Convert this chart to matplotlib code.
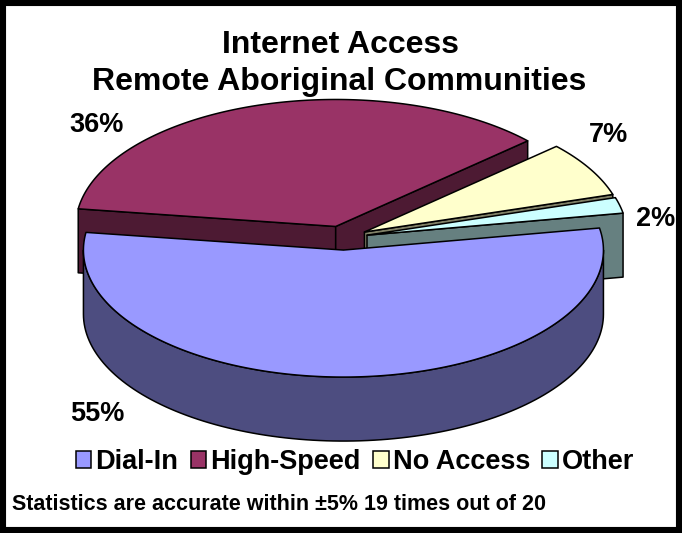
import numpy as np
import matplotlib
matplotlib.use("Agg")
import matplotlib.pyplot as plt
from matplotlib.patches import Polygon, Patch, Rectangle

# ---- data ----
categories = ["Dial-In", "High-Speed", "No Access", "Other"]
values = [55, 36, 7, 2]
top_colors = ["#9999FF", "#993366", "#FFFFCC", "#CCFFFF"]
side_colors = ["#4D4D80", "#4D1A33", "#808066", "#668080"]
title_lines = ["Internet Access", "Remote Aboriginal Communities"]
footnote = "Statistics are accurate within \u00b15% 19 times out of 20"

# label anchor positions (pixels) for each category's percentage label
label_pos = [(97, 414), (97, 125), (608, 135), (656, 219)]

# ---- figure ----
W, H = 682, 533
fig = plt.figure(figsize=(W / 100, H / 100), dpi=100)
ax = fig.add_axes([0, 0, 1, 1])
ax.set_xlim(0, W)
ax.set_ylim(H, 0)
ax.axis("off")

FONT = "Liberation Sans"
plt.rcParams["font.family"] = [FONT, "DejaVu Sans"]

# geometry of the 3-D pie
CX, CY = 343.0, 238.0
RX, RY = 260.0, 127.0
DEPTH = 64.0
EXPLODE = 0.095
START = 10.0
LW = 1.1


def rim(cx, cy, th, dz=0.0):
    t = np.radians(th)
    return cx + RX * np.cos(t), cy - RY * np.sin(t) + dz


total = float(sum(values))
slices = []
a = START
for i, v in enumerate(values):
    span = 360.0 * v / total
    ta, tb = a, a - span  # clockwise
    mid = np.radians((ta + tb) / 2)
    cx = CX + EXPLODE * RX * np.cos(mid)
    cy = CY - EXPLODE * RY * np.sin(mid)
    slices.append(dict(i=i, ta=ta, tb=tb, cx=cx, cy=cy, depth_key=np.sin(mid)))
    a = tb

# back-to-front
slices.sort(key=lambda s: -s["depth_key"])


def add_poly(pts, fc, z):
    ax.add_patch(Polygon(pts, closed=True, facecolor=fc, edgecolor="black",
                         linewidth=LW, joinstyle="round", zorder=z))


z = 1
for s in slices:
    i, ta, tb, cx, cy = s["i"], s["ta"], s["tb"], s["cx"], s["cy"]
    sc, tc = side_colors[i], top_colors[i]
    # radial faces
    for th, normal in ((ta, ta + 90.0), (tb, tb - 90.0)):
        if np.sin(np.radians(normal)) < 0:
            p1 = (cx, cy)
            p2 = rim(cx, cy, th)
            p3 = rim(cx, cy, th, DEPTH)
            p4 = (cx, cy + DEPTH)
            add_poly([p1, p2, p3, p4], sc, z)
            z += 1
    # curved outer side (front half only)
    for k in range(-2, 3):
        lo, hi = -180.0 + 360.0 * k, 0.0 + 360.0 * k
        l2, h2 = max(lo, tb), min(hi, ta)
        if h2 - l2 > 1e-6:
            ths = np.linspace(h2, l2, 120)
            topp = [rim(cx, cy, t) for t in ths]
            botp = [rim(cx, cy, t, DEPTH) for t in ths[::-1]]
            add_poly(topp + botp, sc, z)
            z += 1
    # top face
    ths = np.linspace(ta, tb, 200)
    pts = [(cx, cy)] + [rim(cx, cy, t) for t in ths]
    add_poly(pts, tc, z)
    z += 1

# percentage labels
for i, v in enumerate(values):
    x, y = label_pos[i]
    ax.text(x, y, f"{v}%", ha="center", va="center", fontsize=19.5,
            fontweight="bold", family=FONT, zorder=50)

# title
ax.text(340, 45, title_lines[0], ha="center", va="center", fontsize=23,
        fontweight="bold", family=FONT)
ax.text(339, 82, title_lines[1], ha="center", va="center", fontsize=23,
        fontweight="bold", family=FONT)

# legend
handles = [Patch(facecolor=top_colors[i], edgecolor="black", linewidth=LW,
                 label=categories[i]) for i in range(len(categories))]
leg = fig.legend(handles=handles, loc="center", ncol=4, frameon=False,
                 bbox_to_anchor=(355 / W, 1 - 462 / H),
                 prop=dict(family=FONT, weight="bold", size=19.5),
                 handlelength=0.58, handleheight=0.58, handletextpad=0.15,
                 columnspacing=0.45, borderaxespad=0, borderpad=0)

# footnote
ax.text(12, 505, footnote, ha="left", va="center", fontsize=15.5,
        fontweight="bold", family=FONT)

# outer border
ax.add_patch(Rectangle((3, 3), W - 6, H - 6, fill=False, edgecolor="black",
                       linewidth=4.4, clip_on=False, zorder=100))

fig.savefig("out.png", dpi=100)
